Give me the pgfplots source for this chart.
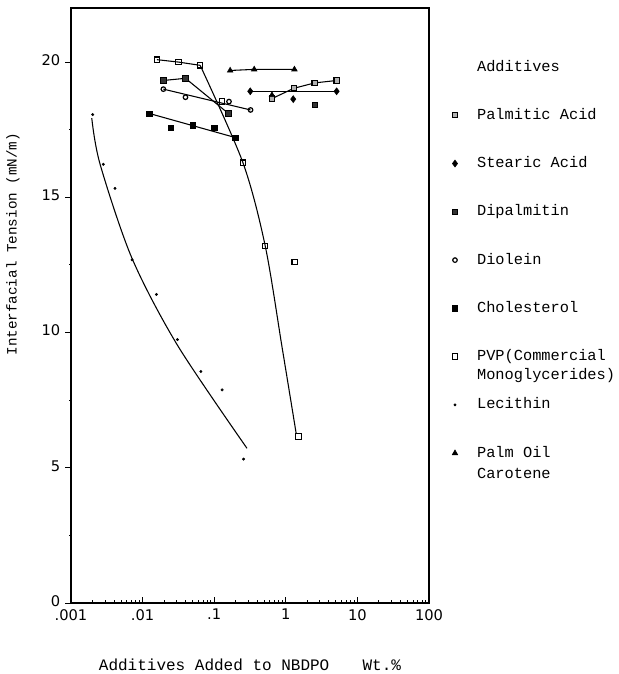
\documentclass[border=0pt]{standalone}
\usepackage{fontspec}
\setmainfont{Liberation Mono}
\newfontfamily\tickfont{DejaVu Sans}
\usepackage{pgfplots}
\pgfplotsset{compat=1.18}
\begin{document}
\begin{tikzpicture}
\begin{axis}[
  scale only axis, width=268.5pt, height=446.25pt,
  xmode=log, xmin=0.001, xmax=100, ymin=0, ymax=22,
  axis line style={line width=0.9pt},
  xtick={0.001,0.01,0.1,1,10,100}, xticklabels={.001,.01,.1,1,10,100},
  ytick={0,5,10,15,20}, yticklabels={0,5,10,15,20},
  extra y ticks={2.5,7.5,12.5,17.5}, extra y tick labels={},
  extra y tick style={major tick length=1.5pt},
  xtick align=inside, ytick align=outside,
  xtick pos=bottom, ytick pos=left,
  major tick length=4.5pt, minor tick length=2.5pt,
  tick style={black, line width=0.7pt},
  xticklabel style={font=\tickfont\fontsize{11}{13}\selectfont, inner sep=0pt, yshift=-4.5pt},
  yticklabel style={font=\tickfont\fontsize{11}{13}\selectfont, yshift=1.5pt},
  xlabel={Additives Added to NBDPO\hspace{25pt}Wt.\%},
  xlabel style={at={(axis description cs:0.5,0)}, anchor=base, yshift=-50.25pt, font=\fontsize{12}{14}\selectfont},
  ylabel={Interfacial Tension (mN/m)},
  ylabel style={at={(axis description cs:-0.162,0.603)}, anchor=center, font=\fontsize{10.7}{12}\selectfont},
  legend cell align=left,
  legend style={at={(1.0408,0.912)}, anchor=north west, draw=none, fill=none, inner sep=0pt, outer sep=0pt,
    font=\fontsize{11.5}{14}\selectfont, row sep=26.2pt,
    nodes={text height=8pt, text depth=2pt, inner xsep=14.5pt, inner ysep=0pt}},
]
\addlegendimage{empty legend}
\addlegendentry{Additives}

% Palmitic Acid
\addplot[black, line width=0.8pt, forget plot] coordinates {(0.641,18.65)(1.29,19.03)(2.53,19.23)(5.13,19.32)};
\addplot[only marks, mark=square*, mark size=2pt, mark options={fill=black!30, draw=black, line width=0.8pt}]
  coordinates {(0.641,18.65)(1.29,19.03)(2.53,19.23)(5.13,19.32)};
\addlegendentry{Palmitic Acid}

% Stearic Acid
\addplot[black, line width=0.8pt, forget plot] coordinates {(0.319,18.92)(5.13,18.92)};
\addplot[only marks, mark=diamond*, mark size=2.6pt, mark options={fill=black, draw=black}]
  coordinates {(0.319,18.92)(1.27,18.63)(5.13,18.92)};
\addlegendentry{Stearic Acid}

% Dipalmitin
\addplot[black, line width=0.8pt, forget plot] coordinates {(0.0195,19.32)(0.0397,19.4)(0.158,18.1)};
\addplot[only marks, mark=square*, mark size=2pt, mark options={fill=black!80, draw=black, line width=0.7pt}]
  coordinates {(0.0195,19.32)(0.0397,19.4)(0.158,18.1)(2.53,18.41)};
\addlegendentry{Dipalmitin}

% Diolein
\addplot[black, line width=0.8pt, forget plot] coordinates {(0.0195,19.0)(0.322,18.23)};
\addplot[only marks, mark=o, mark size=1.7pt, mark options={draw=black, line width=0.9pt}]
  coordinates {(0.0195,19.0)(0.0397,18.7)(0.161,18.54)(0.322,18.23)};
\addlegendentry{Diolein}

% Cholesterol
\addplot[black, line width=0.8pt, forget plot] coordinates {(0.0124,18.1)(0.197,17.21)};
\addplot[only marks, mark=square*, mark size=2pt, mark options={fill=black, draw=black}]
  coordinates {(0.0124,18.1)(0.0248,17.58)(0.0497,17.67)(0.1,17.58)(0.197,17.21)};
\addlegendentry{Cholesterol}

% PVP
\addplot[black, line width=0.8pt, forget plot] coordinates {(0.0158,20.09)(0.0317,20.0)(0.0637,19.88)};
\addplot[black, line width=0.8pt, smooth, tension=0.5, forget plot] coordinates {(0.0637,19.88)(0.252,16.28)(0.517,13.19)(0.893,9.41)(1.40,6.25)};
\addplot[only marks, mark=square, mark size=2pt, mark options={draw=black, line width=0.8pt, fill=white}]
  coordinates {(0.0158,20.09)(0.0317,20.0)(0.0637,19.88)(0.128,18.54)(0.252,16.28)(0.517,13.19)(1.33,12.6)(1.51,6.16)};
\addlegendentry{\begin{tabular}[t]{@{}l@{}}PVP(Commercial\\[0pt]Monoglycerides)\end{tabular}}

% Lecithin
\addplot[black, line width=0.8pt, smooth, tension=0.5, forget plot] coordinates {(0.00195,17.93)(0.00255,16.22)(0.0071,12.75)(0.0307,9.53)(0.287,5.72)};
\addplot[only marks, mark=*, mark size=0.9pt, mark options={fill=black, draw=black}]
  coordinates {(0.00201,18.06)(0.00283,16.22)(0.00412,15.33)(0.00713,12.69)(0.0156,11.41)(0.0307,9.74)(0.0651,8.56)(0.129,7.88)(0.257,5.32)};
\addlegendentry{Lecithin}

% Palm Oil Carotene
\addplot[black, line width=0.8pt, forget plot] coordinates {(0.167,19.69)(0.362,19.73)(1.32,19.73)};
\addplot[only marks, mark=triangle*, mark size=2.4pt, mark options={fill=black, draw=black}]
  coordinates {(0.167,19.69)(0.362,19.73)(1.32,19.73)(0.641,18.78)};
\addlegendentry{\begin{tabular}[t]{@{}l@{}}Palm Oil\\[2pt]Carotene\end{tabular}}
\end{axis}
\pgfresetboundingbox
\path (-53.25pt,-53.25pt) rectangle (410.25pt,452.25pt);
\end{tikzpicture}
\end{document}
